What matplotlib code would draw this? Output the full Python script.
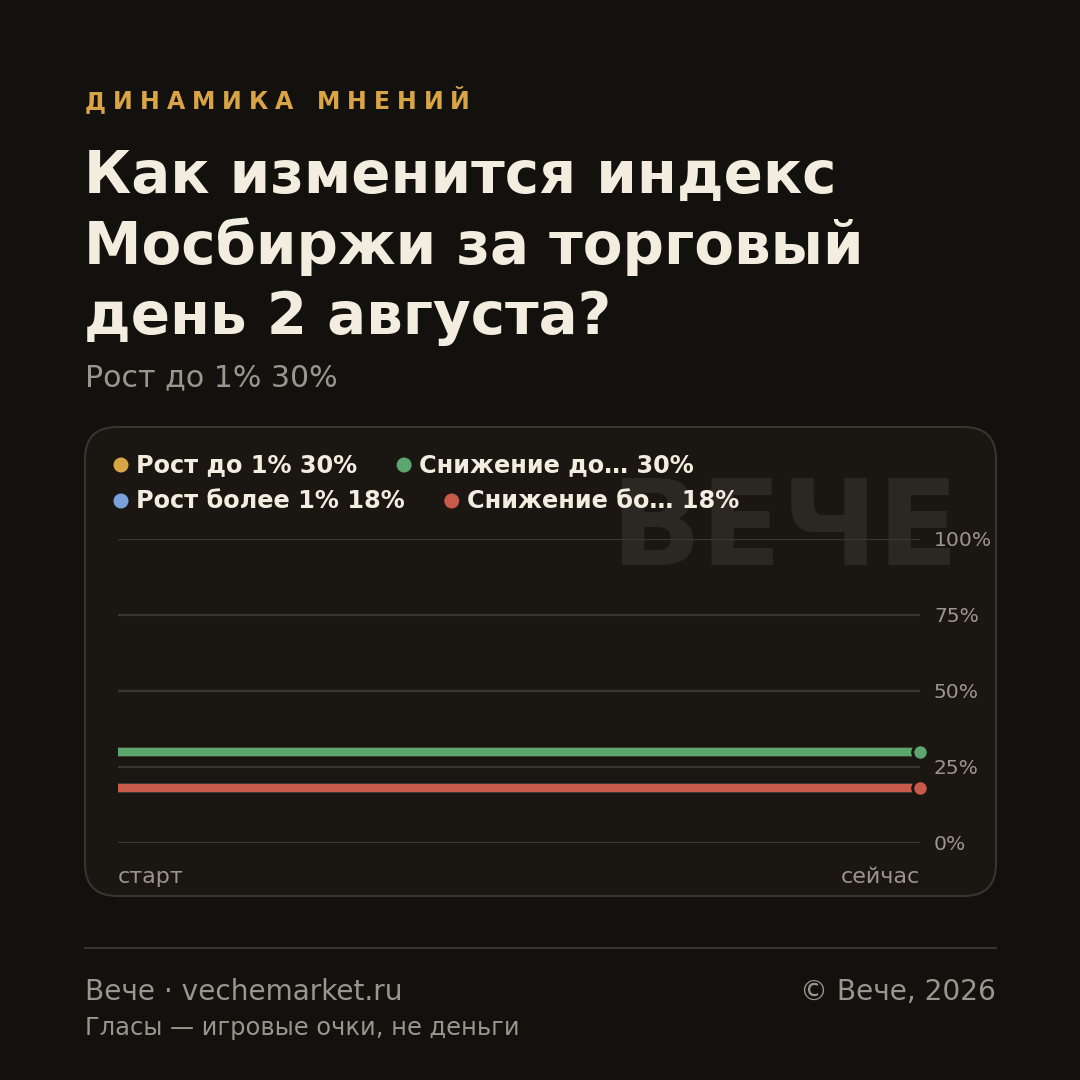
import matplotlib
matplotlib.use("Agg")
import matplotlib.pyplot as plt
from matplotlib.patches import FancyBboxPatch, Circle

plt.rcParams['font.family'] = ['DejaVu Sans']

# ---- data ----
kicker = "ДИНАМИКА МНЕНИЙ"
title_lines = ["Как изменится индекс", "Мосбиржи за торговый", "день 2 августа?"]
subtitle = "Рост до 1% 30%"
series_names = ["Рост до 1%", "Снижение до…", "Рост более 1%", "Снижение бо…"]
series_values = [[30, 30], [30, 30], [18, 18], [18, 18]]
series_colors = ["#d9a445", "#5aa66e", "#7b9fd8", "#c85a4c"]
x_points = [0, 1]
x_labels = ["старт", "сейчас"]
y_ticks = [0, 25, 50, 75, 100]
y_tick_labels = ["0%", "25%", "50%", "75%", "100%"]
footer_left = "Вече · vechemarket.ru"
footer_right = "© Вече, 2026"
footer_note = "Гласы — игровые очки, не деньги"
watermark = "ВЕЧЕ"

BG = "#12110e"
CARD = "#1a1713"
BORDER = "#38342e"
GRID = "#3a3631"
CREAM = "#f2eddf"
GRAY = "#9b968b"
GOLD = "#d9a445"

W = H = 1080
fig = plt.figure(figsize=(10.8, 10.8), dpi=100, facecolor=BG)
bg = fig.add_axes([0, 0, 1, 1])
bg.set_xlim(0, W)
bg.set_ylim(H, 0)
bg.axis('off')
bg.set_facecolor(BG)
renderer = fig.canvas.get_renderer()

def text_width(t):
    bb = t.get_window_extent(renderer=renderer)
    return bb.width

# kicker with letter spacing
x = 85
spacing = 7.0
for ch in kicker:
    if ch == ' ':
        x += 9 + spacing
        continue
    t = bg.text(x, 109, ch, fontsize=17, fontweight='bold', color=GOLD,
                ha='left', va='baseline')
    x += text_width(t) + spacing

# title
for i, line in enumerate(title_lines):
    bg.text(84, 193 + i * 70.5, line, fontsize=41.7, fontweight='bold', color=CREAM,
            ha='left', va='baseline')

bg.text(85, 386, subtitle, fontsize=21.6, color=GRAY, ha='left', va='baseline')

# card
card = FancyBboxPatch((85, 427), 911, 469, boxstyle="round,pad=0,rounding_size=32",
                      facecolor=CARD, edgecolor=BORDER, linewidth=1.5, zorder=1)
bg.add_patch(card)

# watermark
bg.text(959, 565, watermark, fontsize=85.5, fontweight='bold', color="#2b2823",
        ha='right', va='baseline', zorder=2)

# legend
rows = [[0, 1], [2, 3]]
row_baselines = [472, 508]
for r, idxs in enumerate(rows):
    x = 121
    for i in idxs:
        cy = row_baselines[r] - 7
        bg.add_patch(Circle((x, cy), 7.5, facecolor=series_colors[i], edgecolor='none', zorder=3))
        label = f"{series_names[i]} {series_values[i][-1]}%"
        t = bg.text(x + 15, row_baselines[r], label, fontsize=17.3, fontweight='bold',
                    color=CREAM, ha='left', va='baseline', zorder=3)
        x = x + 15 + text_width(t) + 47

# footer
bg.plot([85, 996], [948, 948], color=BORDER, lw=1.5)
bg.text(85, 1000, footer_left, fontsize=20.2, color=GRAY, ha='left', va='baseline')
bg.text(996, 1000, footer_right, fontsize=20.2, color=GRAY, ha='right', va='baseline')
bg.text(85, 1035, footer_note, fontsize=17.4, color=GRAY, ha='left', va='baseline')

# plot axes
ax = fig.add_axes([118 / W, (H - 843) / H, 802 / W, 304 / H])
ax.patch.set_alpha(0)
ax.set_xlim(0, 1)
ax.set_ylim(0, 100)
for s in ax.spines.values():
    s.set_visible(False)
ax.yaxis.tick_right()
ax.set_yticks(y_ticks, y_tick_labels)
ax.tick_params(axis='y', length=0, pad=10, labelsize=14.6, labelcolor=GRAY)
ax.grid(axis='y', color=GRID, lw=1.6)
ax.set_axisbelow(True)
ax.set_xticks(x_points, x_labels)
ax.tick_params(axis='x', length=0, pad=17, labelsize=16, labelcolor=GRAY)
xl = ax.get_xticklabels()
xl[0].set_ha('left')
xl[-1].set_ha('right')

for vals, col in zip(series_values, series_colors):
    ax.plot(x_points, vals, color=col, lw=6, solid_capstyle='butt', zorder=3)
    ax.plot([x_points[-1]], [vals[-1]], 'o', ms=11, color=col, mec=CARD, mew=2,
            zorder=4, clip_on=False)

fig.savefig("out.png", dpi=100, facecolor=BG)
